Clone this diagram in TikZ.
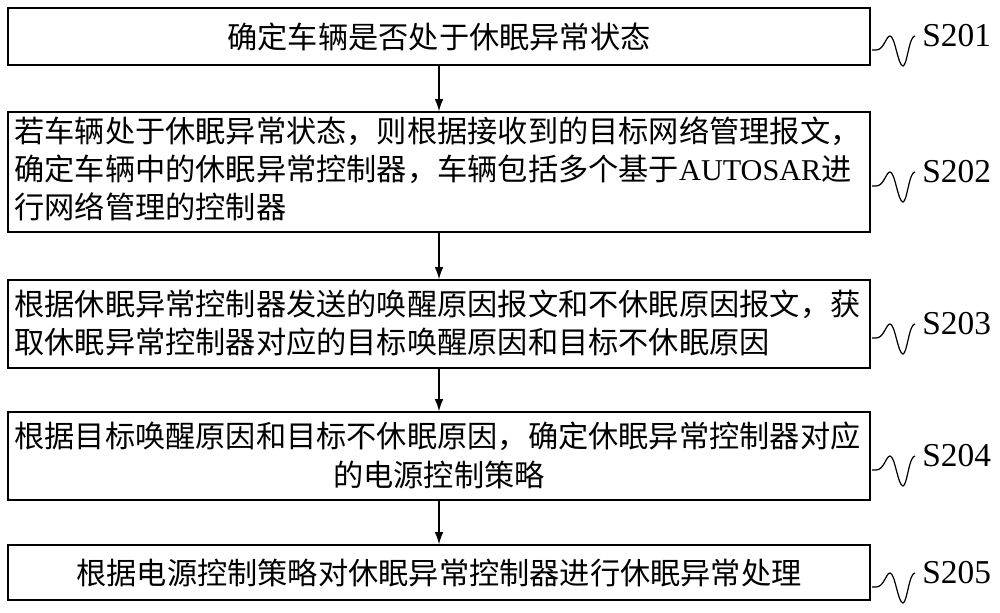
\documentclass[tikz,border=0pt]{standalone}
\usepackage{fontspec}
\setmainfont{Liberation Serif}
\newfontfamily\cjk{Noto Sans CJK SC}
\usetikzlibrary{arrows.meta}
\begin{document}
\begin{tikzpicture}[x=0.02cm,y=-0.02cm,
  boxs/.style={draw,line width=0.8pt,inner sep=0pt,minimum width=17.24cm},
  txt/.style={font=\cjk\fontsize{17.2}{20}\selectfont,inner sep=0pt},
  lab/.style={font=\fontsize{19}{22}\selectfont,inner sep=0pt,anchor=west},
  arr/.style={-{Latex[length=7pt,width=5pt]},line width=0.8pt}]
\useasboundingbox (0,0) rectangle (1000,612);
\node[boxs,minimum height=1.14cm] (b1) at (439,36.5) {};
\node[boxs,minimum height=2.4cm] (b2) at (439,172) {};
\node[boxs,minimum height=1.76cm] (b3) at (439,324) {};
\node[boxs,minimum height=1.76cm] (b4) at (439,456) {};
\node[boxs,minimum height=1.1cm] (b5) at (439,572.5) {};
\node[txt] (t1) at (439,37) {确定车辆是否处于休眠异常状态};
\node[txt,anchor=west] (t2a) at (14,131) {若车辆处于休眠异常状态，则根据接收到的目标网络管理报文，};
\node[txt,anchor=west] (t2b) at (14,169) {确定车辆中的休眠异常控制器，车辆包括多个基于{\rmfamily AUTOSAR}进};
\node[txt,anchor=west] (t2c) at (14,207) {行网络管理的控制器};
\node[txt,anchor=west] (t3a) at (14,304) {根据休眠异常控制器发送的唤醒原因报文和不休眠原因报文，获};
\node[txt,anchor=west] (t3b) at (14,342) {取休眠异常控制器对应的目标唤醒原因和目标不休眠原因};
\node[txt,anchor=west] (t4a) at (14,436) {根据目标唤醒原因和目标不休眠原因，确定休眠异常控制器对应};
\node[txt] (t4b) at (439,475) {的电源控制策略};
\node[txt] (t5) at (439,573) {根据电源控制策略对休眠异常控制器进行休眠异常处理};
\foreach \a/\b in {b1/b2,b2/b3,b3/b4,b4/b5} \draw[arr] (\a.south) -- (\b.north);
\foreach \y/\l in {36/S201,172/S202,324/S203,456/S204,573/S205}{
  \coordinate (s\l) at (872,\y+14);
  \draw[line width=0.7pt] (s\l) -- ++(4,0) .. controls +(8,0) and +(-4,0) .. ++(14,-14)
     .. controls +(5,0) and +(-5,0) .. ++(13,30) .. controls +(4,0) and +(-6,0) .. ++(12,-30);
  \node[lab] (n\l) at (922,\y) {\l};
}
\end{tikzpicture}
\end{document}
